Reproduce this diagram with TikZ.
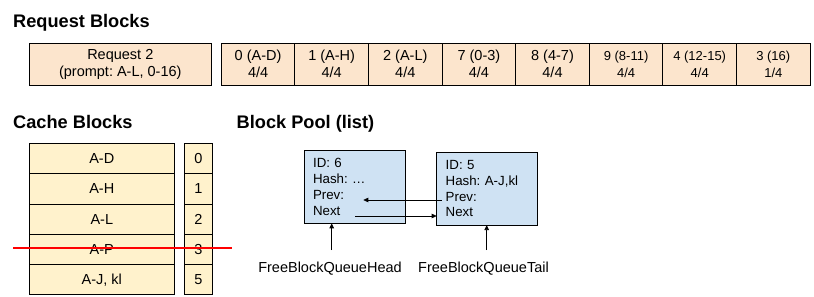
\documentclass[tikz,border=0pt]{standalone}
\usepackage{fontspec}
\setmainfont{Liberation Sans}
\frenchspacing
\usetikzlibrary{arrows.meta,calc}
\definecolor{reqfill}{HTML}{FCE5CD}
\definecolor{cachefill}{HTML}{FFF2CC}
\definecolor{poolfill}{HTML}{CFE2F3}
\definecolor{strikered}{RGB}{255,0,0}
\begin{document}
\begin{tikzpicture}[x=1pt,y=-1pt,
  title/.style={anchor=base west, inner sep=0, font=\fontsize{18.2}{21}\selectfont\bfseries},
  box/.style={draw=black, line width=0.9pt, inner sep=0, outer sep=0, align=center},
  req/.style={box, fill=reqfill, minimum height=41.7pt, font=\fontsize{14.5}{17}\selectfont},
  reqsmall/.style={req, font=\fontsize{13}{17}\selectfont},
  cache/.style={box, fill=cachefill, minimum height=30.3pt, font=\fontsize{14.5}{17}\selectfont},
  pool/.style={box, fill=poolfill, align=left, inner xsep=9pt, font=\fontsize{13.3}{15.8}\selectfont},
  lbl/.style={inner sep=0, font=\fontsize{14.5}{17}\selectfont},
  arr/.style={line width=0.8pt, -{Triangle[length=5pt,width=4.5pt]}},
  redline/.style={draw=strikered, line width=1.8pt}
]
\useasboundingbox (0,0) rectangle (814,297);

% titles
\node[title] (t1) at (13,27.5) {Request Blocks};
\node[title] (t2) at (13,128.3) {Cache Blocks};
\node[title] (t3) at (236.5,128.3) {Block Pool (list)};

% request blocks
\node[req, minimum width=182pt] (rq) at (120.3,64.2) {Request 2\\(prompt: A-L, 0-16)};
\def\bw{73.6}
\node[req, minimum width=\bw pt] (r0) at (221.3+0.5*\bw,64.2) {0 (A-D)\\4/4};
\node[req, minimum width=\bw pt] (r1) at (221.3+1.5*\bw,64.2) {1 (A-H)\\4/4};
\node[req, minimum width=\bw pt] (r2) at (221.3+2.5*\bw,64.2) {2 (A-L)\\4/4};
\node[req, minimum width=\bw pt] (r3) at (221.3+3.5*\bw,64.2) {7 (0-3)\\4/4};
\node[req, minimum width=\bw pt] (r4) at (221.3+4.5*\bw,64.2) {8 (4-7)\\4/4};
\node[reqsmall, minimum width=\bw pt] (r5) at (221.3+5.5*\bw,64.2) {9 (8-11)\\4/4};
\node[reqsmall, minimum width=\bw pt] (r6) at (221.3+6.5*\bw,64.2) {4 (12-15)\\4/4};
\node[reqsmall, minimum width=\bw pt] (r7) at (221.3+7.5*\bw,64.2) {3 (16)\\1/4};

% cache blocks
\def\rh{30.3}
\node[cache, minimum width=145pt] (c0) at (101.8,143.4+0.5*\rh) {A-D};
\node[cache, minimum width=145pt] (c1) at (101.8,143.4+1.5*\rh) {A-H};
\node[cache, minimum width=145pt] (c2) at (101.8,143.4+2.5*\rh) {A-L};
\node[cache, minimum width=145pt] (c3) at (101.8,143.4+3.5*\rh) {A-P};
\node[cache, minimum width=145pt] (c4) at (101.8,143.4+4.5*\rh) {A-J, kl};
\node[cache, minimum width=28pt] (i0) at (198.3,143.4+0.5*\rh) {0};
\node[cache, minimum width=28pt] (i1) at (198.3,143.4+1.5*\rh) {1};
\node[cache, minimum width=28pt] (i2) at (198.3,143.4+2.5*\rh) {2};
\node[cache, minimum width=28pt] (i3) at (198.3,143.4+3.5*\rh) {3};
\node[cache, minimum width=28pt] (i4) at (198.3,143.4+4.5*\rh) {5};
\coordinate (sL) at (13,247.7);
\coordinate (sR) at (231.7,247.7);
\path[redline] (sL) -- (sR);

% block pool
\node[pool, minimum width=101.7pt, minimum height=72.6pt, text width=83.7pt] (b1) at (354.9,187) {ID: 6\\Hash: …\\Prev:\\Next};
\node[pool, minimum width=100.6pt, minimum height=72.7pt, text width=82.6pt] (b2) at (487,188.7) {ID: 5\\Hash: A-J,kl\\Prev:\\Next};

\coordinate (p2) at (441.7,200);
\coordinate (p1) at (363.3,200);
\coordinate (n1) at (355,216);
\draw[arr] (p2) -- (p1);
\draw[arr] (n1) -- (n1 -| b2.west);

\node[lbl] (head) at (330,268.3) {FreeBlockQueueHead};
\node[lbl] (tail) at (483.5,268.3) {FreeBlockQueueTail};
\coordinate (h0) at (331.7,250);
\coordinate (t0) at (486.7,250);
\draw[arr] (h0) -- (h0 |- b1.south);
\draw[arr] (t0) -- (t0 |- b2.south);
\end{tikzpicture}
\end{document}
